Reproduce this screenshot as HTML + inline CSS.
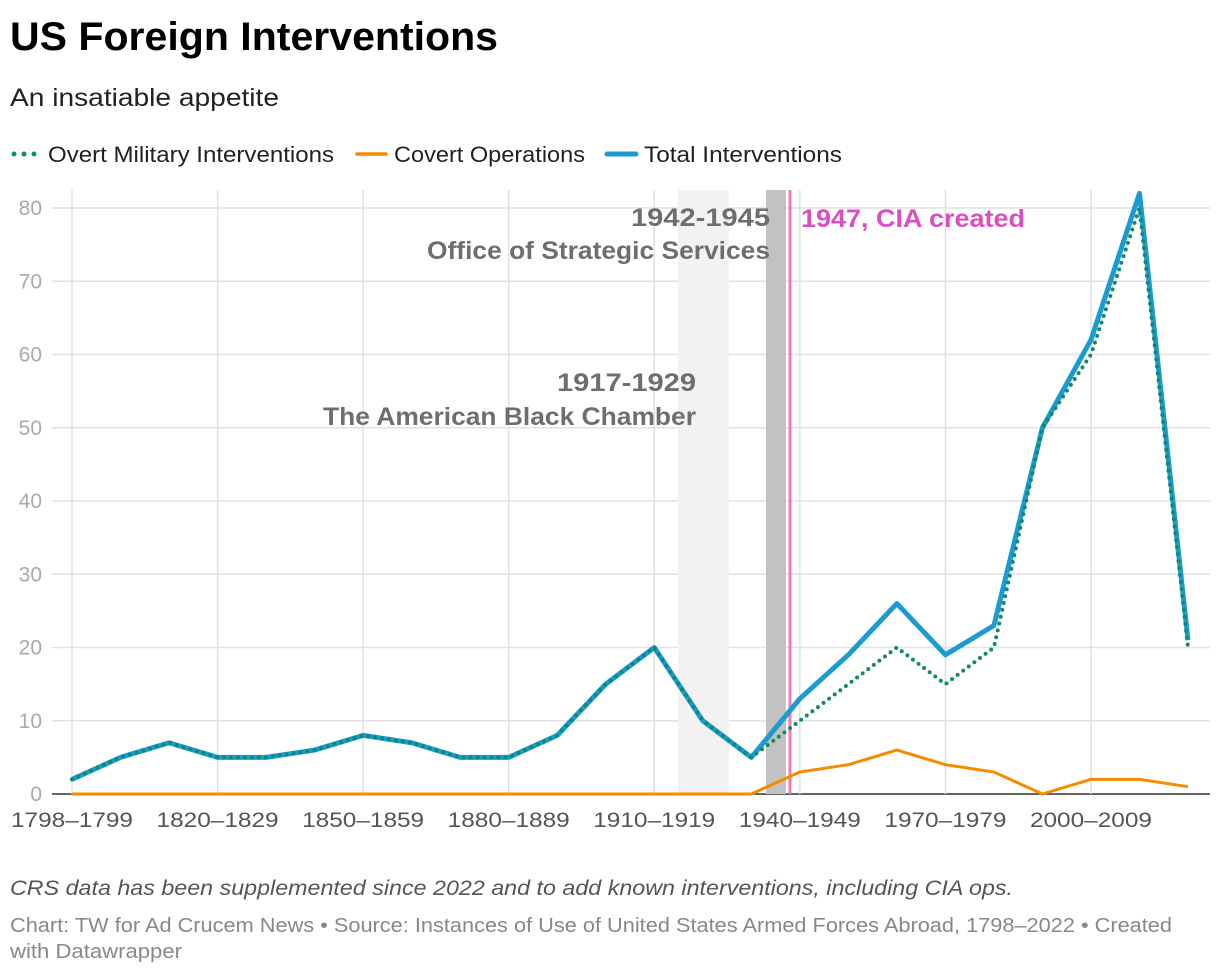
<!DOCTYPE html>
<html><head><meta charset="utf-8"><style>
body{margin:0;background:#fff;width:1220px;height:974px;overflow:hidden;font-family:"Liberation Sans",sans-serif;}
</style></head><body>
<svg width="1220" height="974" xmlns="http://www.w3.org/2000/svg" id="chart">
<text x="10" y="50" font-size="40" font-weight="bold" fill="#000" textLength="488" lengthAdjust="spacingAndGlyphs">US Foreign Interventions</text>
<text x="10" y="106" font-size="25" fill="#222" textLength="269" lengthAdjust="spacingAndGlyphs">An insatiable appetite</text>
<g>
<g><circle cx="14" cy="154" r="2.5" fill="#0f8a6e"/><circle cx="24" cy="154" r="2.5" fill="#0f8a6e"/><circle cx="34" cy="154" r="2.5" fill="#0f8a6e"/><text x="48" y="162" font-size="22" fill="#222" textLength="286" lengthAdjust="spacingAndGlyphs">Overt Military Interventions</text></g>
<g><line x1="357" y1="154" x2="386" y2="154" stroke="#f78b00" stroke-width="3.5" stroke-linecap="round"/><text x="394" y="162" font-size="22" fill="#222" textLength="191" lengthAdjust="spacingAndGlyphs">Covert Operations</text></g>
<g><line x1="607" y1="154" x2="636" y2="154" stroke="#1b9bd1" stroke-width="5" stroke-linecap="round"/><text x="644" y="162" font-size="22" fill="#222" textLength="198" lengthAdjust="spacingAndGlyphs">Total Interventions</text></g>
</g>
<g id="grid"></g>
<g id="annot"></g>
<g id="series"></g>
<g id="labels"></g>
<text x="10" y="895" font-size="21" font-style="italic" fill="#555" textLength="1003" lengthAdjust="spacingAndGlyphs">CRS data has been supplemented since 2022 and to add known interventions, including CIA ops.</text>
<text x="10" y="932" font-size="20" fill="#888" textLength="1162" lengthAdjust="spacingAndGlyphs">Chart: TW for Ad Crucem News • Source: Instances of Use of United States Armed Forces Abroad, 1798–2022 • Created</text>
<text x="10" y="958" font-size="20" fill="#888" textLength="172" lengthAdjust="spacingAndGlyphs">with Datawrapper</text>
</svg>
<script>
const categories=["1798–1799","1800–1809","1810–1819","1820–1829","1830–1839","1840–1849","1850–1859","1860–1869","1870–1879","1880–1889","1890–1899","1900–1909","1910–1919","1920–1929","1930–1939","1940–1949","1950–1959","1960–1969","1970–1979","1980–1989","1990–1999","2000–2009","2010–2019","2020–2022"];
const overt=[2,5,7,5,5,6,8,7,5,5,8,15,20,10,5,10,15,20,15,20,50,60,80,20];
const covert=[0,0,0,0,0,0,0,0,0,0,0,0,0,0,0,3,4,6,4,3,0,2,2,1];
const total=[2,5,7,5,5,6,8,7,5,5,8,15,20,10,5,13,19,26,19,23,50,62,82,21];
const yTicks=[0,10,20,30,40,50,60,70,80];
const NS="http://www.w3.org/2000/svg";
const x=i=>72+i*(1188-72)/23;
const y=v=>794-v*(794-208)/80;
function mk(tag,attrs,parent,txt){const e=document.createElementNS(NS,tag);for(const k in attrs)e.setAttribute(k,attrs[k]);if(txt!==undefined)e.textContent=txt;document.getElementById(parent).appendChild(e);return e;}
yTicks.forEach(t=>{
 const l=mk('line',{x1:52,x2:1210,y1:y(t),y2:y(t),stroke:t===0?'#333':'#e2e2e2','stroke-width':1.5},'grid');
 
 
 const tx=mk('text',{x:42,y:y(t)+7,'font-size':21,fill:'#aaa','text-anchor':'end'},'labels',t);
 
 
});
categories.forEach((c,i)=>{
 if(i%3!==0)return;
 const l=mk('line',{x1:x(i),x2:x(i),y1:190,y2:794,stroke:'#e2e2e2','stroke-width':1.5},'grid');
 
 
 const tx=mk('text',{x:x(i),y:827,'font-size':21,fill:'#555','text-anchor':'middle',textLength:122,lengthAdjust:'spacingAndGlyphs'},'labels',c);
 
 
});
let a=mk('rect',{x:678,y:190,width:51,height:604,fill:'#f2f2f2'},'annot');


a=mk('rect',{x:766,y:190,width:20,height:604,fill:'#c2c2c2'},'annot');


a=mk('line',{x1:790,x2:790,y1:190,y2:794,stroke:'#f07ab8','stroke-width':3},'annot');


[[770,226,'1942-1945','oss-year',139],[770,259,'Office of Strategic Services','oss-label',343],[696,391,'1917-1929','chamber-year',139],[696,425,'The American Black Chamber','chamber-label',373]].forEach(d=>{
 const t=mk('text',{x:d[0],y:d[1],'font-size':25,'font-weight':'bold',fill:'#6e6e6e','text-anchor':'end',textLength:d[4],lengthAdjust:'spacingAndGlyphs'},'labels',d[2]);
 
 
});
a=mk('text',{x:801,y:227,'font-size':25,'font-weight':'bold',fill:'#d94ec0',textLength:224,lengthAdjust:'spacingAndGlyphs'},'labels','1947, CIA created');


const pts=arr=>arr.map((v,i)=>x(i)+','+y(v)).join(' ');
let p=mk('polyline',{points:pts(covert),fill:'none',stroke:'#f78b00','stroke-width':3,'stroke-linejoin':'round'},'series');


p=mk('polyline',{points:pts(total),fill:'none',stroke:'#1b9bd1','stroke-width':5,'stroke-linejoin':'round'},'series');


p=mk('polyline',{points:pts(overt),fill:'none',stroke:'#0f8a6e','stroke-width':4,'stroke-dasharray':'0 7','stroke-linecap':'round','stroke-linejoin':'round'},'series');


</script>
</body></html>
